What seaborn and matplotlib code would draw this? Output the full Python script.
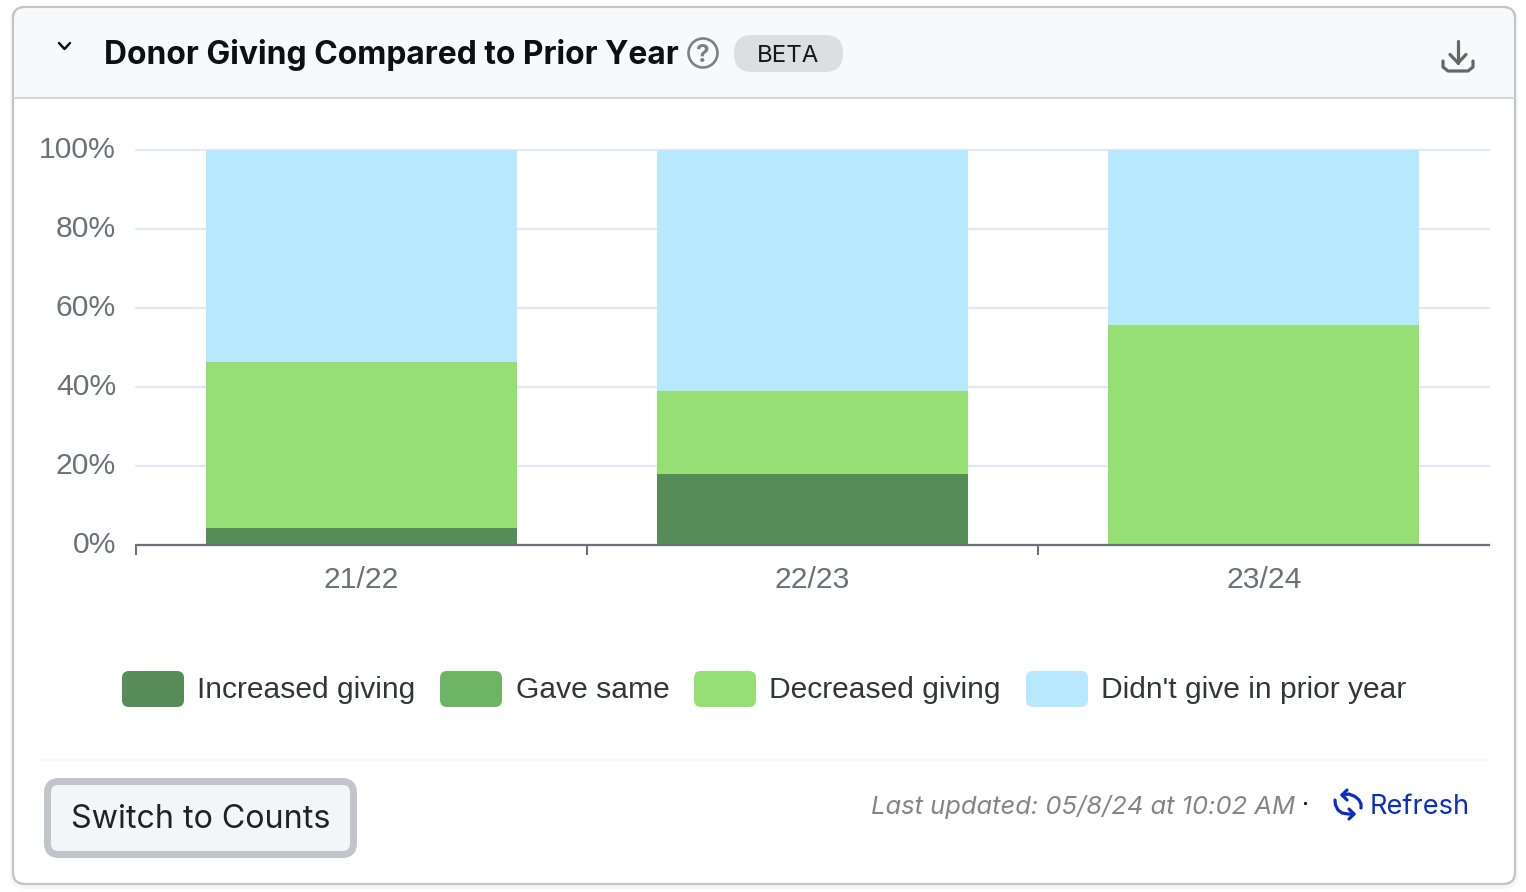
import matplotlib

matplotlib.use("Agg")
import matplotlib.pyplot as plt
import numpy as np
import seaborn as sns
from matplotlib.patches import Circle, FancyBboxPatch, Rectangle
from matplotlib.transforms import ScaledTranslation

W, H = 1526, 892

seasons = ["21/22", "22/23", "23/24"]
increased = [4.3, 18.0, 0.0]
gave_same = [0.0, 0.0, 0.0]
decreased = [42.0, 21.0, 55.7]
no_prior = [53.7, 61.0, 44.3]
series_names = ["Increased giving", "Gave same", "Decreased giving", "Didn't give in prior year"]
series_colors = ["#578c58", "#6db564", "#95df75", "#b8e8fd"]
y_ticks = [0, 20, 40, 60, 80, 100]

sns.set_theme(style="white")
plt.rcParams["font.family"] = ["Liberation Sans", "DejaVu Sans"]

fig = plt.figure(figsize=(W / 100, H / 100), dpi=100, facecolor="white")

# page furniture is drawn in pixel coordinates
bg = fig.add_axes([0, 0, 1, 1], zorder=0)
bg.set_xlim(0, W)
bg.set_ylim(H, 0)
bg.axis("off")


def rounded(x0, y0, x1, y1, r, fc, ec="none", lw=0, z=2):
    bg.add_patch(FancyBboxPatch((x0 + r, y0 + r), x1 - x0 - 2 * r, y1 - y0 - 2 * r,
                                boxstyle=f"round,pad={r},rounding_size={r}",
                                fc=fc, ec=ec, lw=lw, zorder=z))


def stroke(xs, ys, color, lw=2.0):
    bg.plot(xs, ys, color=color, lw=lw, solid_capstyle="round", solid_joinstyle="round", zorder=5)


# card, shadow and header
rounded(10, 7, 1518, 889, 14, "#f7f7f8", z=1)
rounded(13, 7, 1515, 884, 12, "white", "#c2c5ca", 1.5, z=2)
header_clip = FancyBboxPatch((25, 19), 1478, 853, boxstyle="round,pad=12,rounding_size=12",
                             transform=bg.transData, fc="none", ec="none")
bg.add_patch(header_clip)
head = Rectangle((13, 7), 1502, 91, fc="#f8f9fb", ec="none", zorder=2.5)
bg.add_patch(head)
head.set_clip_path(header_clip)
rounded(13, 7, 1515, 884, 12, "none", "#c2c5ca", 1.5, z=3)
bg.plot([14, 1514], [98, 98], color="#d5d7da", lw=1.5, zorder=3)
bg.plot([40, 1489], [760, 760], color="#f6f7f8", lw=1.5, zorder=3)

# header content
stroke([59, 64.5, 70], [43, 49, 43], "#111111", 1.8)
bg.text(104, 55, "Donor Giving Compared to Prior Year", fontsize=22.9, fontweight="bold", family="Inter",
        color="#0d0f12", va="center", ha="left", zorder=5)
bg.add_patch(Circle((703, 53), 14.5, fc="none", ec="#808080", lw=1.9, zorder=5))
bg.text(703, 55, "?", fontsize=17.5, fontweight="bold", family="Inter", color="#808080",
        va="center", ha="center", zorder=5)
rounded(734, 35, 843, 72, 18, "#dcdee2", z=4)
bg.text(788.5, 56, "BETA", fontsize=17.3, family="Inter", color="#15171a", va="center", ha="center", zorder=5)

# download icon
stroke([1458, 1458], [41, 63], "#666666", 2.3)
stroke([1450, 1458, 1466], [54.5, 63, 54.5], "#666666", 2.3)
stroke([1443, 1443, 1448, 1468, 1473, 1473], [61, 67, 71, 71, 67, 61], "#666666", 2.3)

# legend
legend_boxes = [(122, 184), (440, 502), (694, 756), (1026, 1088)]
legend_text_x = [197, 516, 769, 1101]
for (x0, x1), tx, name, color in zip(legend_boxes, legend_text_x, series_names, series_colors):
    rounded(x0, 671, x1, 707, 7, color, z=4)
    bg.text(tx, 690, name, fontsize=21.6, color="#333639", va="center", ha="left", zorder=5)

# footer
rounded(47.5, 781.5, 353.5, 854.5, 11, "#f4f5f7", "#c1c4c8", 5, z=4)
bg.text(200.5, 820, "Switch to Counts", fontsize=23.2, family="Inter", color="#1f2328",
        va="center", ha="center", zorder=5)
bg.text(871, 807, "Last updated: 05/8/24 at 10:02 AM", fontsize=18.4, family="Inter", style="italic",
        color="#858585", va="center", ha="left", zorder=5)
bg.add_patch(Circle((1305.5, 803.5), 1.6, fc="#111111", ec="none", zorder=5))
bg.text(1370, 807, "Refresh", fontsize=19.6, family="Inter", color="#0a2fbf", va="center", ha="left", zorder=5)

# refresh icon
blue = "#0a2fbf"
stroke([1342, 1349, 1355, 1359, 1361, 1361], [795, 794, 796.5, 800, 804, 808], blue, 2.3)
stroke([1347, 1342, 1347], [790, 795, 800], blue, 2.3)
stroke([1335, 1335.5, 1338, 1342, 1348, 1354], [800, 805, 810, 813, 814, 814], blue, 2.3)
stroke([1349, 1354, 1349], [809, 814, 819], blue, 2.3)

# chart
ax = fig.add_axes([135.5 / W, 1 - 545 / H, (1489 - 135) / W, (545 - 150) / H], zorder=2)
ax.patch.set_alpha(0)

bottoms = np.zeros(len(seasons))
for values, name, color in zip([increased, gave_same, decreased, no_prior], series_names, series_colors):
    sns.barplot(x=seasons, y=values, color=color, saturation=1, width=0.689, bottom=bottoms,
                errorbar=None, label=name, legend=False, linewidth=0, edgecolor="none", ax=ax, zorder=3)
    bottoms = bottoms + np.array(values)

ax.set_xlim(-0.5, 2.5)
ax.set_ylim(0, 100)
ax.set_yticks(y_ticks)
ax.set_yticklabels([f"{t}%" for t in y_ticks])
ax.yaxis.grid(True, color="#e3e9f4", lw=1.7, zorder=0)
ax.xaxis.grid(False)
ax.set_axisbelow(True)
for gl in ax.get_ygridlines():
    gl.set_clip_on(False)
sns.despine(ax=ax, left=True, right=True, top=True)
ax.spines["bottom"].set_color("#6e7079")
ax.spines["bottom"].set_linewidth(1.6)
ax.spines["bottom"].set_zorder(6)
ax.set_xticks([-0.5, 0.5, 1.5], minor=True)
ax.tick_params(axis="x", which="minor", length=7.5, width=1.5, color="#6e7079", bottom=True)
ax.tick_params(axis="x", which="major", length=0, pad=14.8, labelsize=21.7, labelcolor="#6e7079")
ax.tick_params(axis="y", length=0, pad=14, labelsize=21.7, labelcolor="#6e7079")
for lab in ax.get_yticklabels():
    lab.set_transform(lab.get_transform() + ScaledTranslation(0, 3 / 100, fig.dpi_scale_trans))

fig.savefig("out.png", dpi=100)
plt.close(fig)
